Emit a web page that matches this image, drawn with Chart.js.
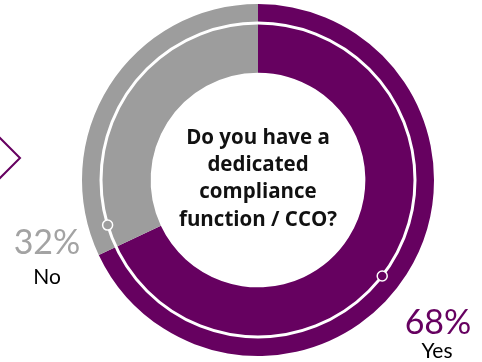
<!DOCTYPE html>
<html>
<head>
<meta charset="utf-8">
<script src="https://cdn.jsdelivr.net/npm/chart.js@4/dist/chart.umd.min.js"></script>
<style>
html,body{margin:0;padding:0;background:#fff;}
#wrap{position:relative;width:482px;height:362px;}
canvas{display:block;}
</style>
</head>
<body>
<div id="wrap"><canvas id="c" width="482" height="362"></canvas></div>
<script>
const categories = ["Yes", "No"];
const values = [68, 32];
const valueLabels = ["68%", "32%"];
const colors = ["#660160", "#9d9d9d"];
const centerLines = ["Do you have a", "dedicated", "compliance", "function / CCO?"];

const deco = {
  id: 'deco',
  afterDatasetsDraw(chart) {
    const ctx = chart.ctx;
    const arc = chart.getDatasetMeta(0).data[0];
    const cx = arc.x, cy = arc.y;
    const outer = arc.outerRadius;
    const r = outer - 19;
    ctx.save();
    ctx.strokeStyle = '#ffffff';
    ctx.lineWidth = 3;
    ctx.beginPath();
    ctx.arc(cx, cy, r, 0, Math.PI * 2);
    ctx.stroke();
    const marks = [[163.3, colors[1]], [37.7, colors[0]]];
    marks.forEach(([deg, fill]) => {
      const a = deg * Math.PI / 180;
      const x = cx + r * Math.cos(a), y = cy + r * Math.sin(a);
      ctx.beginPath();
      ctx.arc(x, y, 5, 0, Math.PI * 2);
      ctx.fillStyle = fill;
      ctx.fill();
      ctx.lineWidth = 1.5;
      ctx.strokeStyle = '#ffffff';
      ctx.stroke();
    });
    ctx.fillStyle = '#111111';
    ctx.font = 'bold 20.5px "Open Sans", Lato, sans-serif';
    ctx.textAlign = 'center';
    ctx.textBaseline = 'middle';
    centerLines.forEach((t, i) => ctx.fillText(t, cx, cy - 42 + i * 27.3));
    ctx.textBaseline = 'alphabetic';
    ctx.font = '34px Lato, "Open Sans", sans-serif';
    ctx.fillStyle = colors[0];
    ctx.fillText(valueLabels[0], 438, 334);
    ctx.font = '21px Lato, "Open Sans", sans-serif';
    ctx.fillStyle = '#000000';
    ctx.fillText(categories[0], 437, 358);
    ctx.font = '34px Lato, "Open Sans", sans-serif';
    ctx.fillStyle = '#a3a3a3';
    ctx.fillText(valueLabels[1], 47, 254);
    ctx.font = '21px Lato, "Open Sans", sans-serif';
    ctx.fillStyle = '#000000';
    ctx.fillText(categories[1], 47, 284);
    ctx.strokeStyle = colors[0];
    ctx.lineWidth = 2;
    ctx.beginPath();
    ctx.moveTo(-1, 137);
    ctx.lineTo(20, 158);
    ctx.lineTo(-1, 179);
    ctx.stroke();
    ctx.restore();
  }
};

new Chart(document.getElementById('c'), {
  type: 'doughnut',
  data: {
    labels: categories,
    datasets: [{
      data: values,
      backgroundColor: colors,
      borderWidth: 0,
      hoverOffset: 0
    }]
  },
  options: {
    responsive: false,
    animation: false,
    cutout: '61%',
    layout: { padding: { left: 82, right: 48, top: 4, bottom: 6 } },
    plugins: { legend: { display: false }, tooltip: { enabled: false } },
    events: []
  },
  plugins: [deco]
});
</script>
</body>
</html>
